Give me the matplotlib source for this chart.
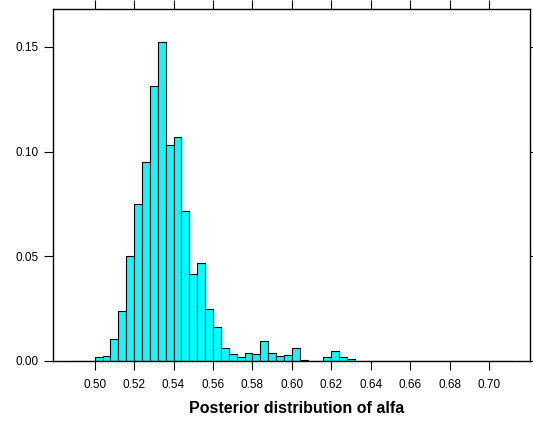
import numpy as np
import matplotlib
matplotlib.use("Agg")
import matplotlib.pyplot as plt

plt.rcParams['font.family'] = ['Liberation Sans', 'DejaVu Sans']

# histogram of alfa, bins of 0.004 from 0.488 to 0.712
breaks = np.linspace(0.488, 0.712, 57)
heights = [0, 0, 0,
           0.0018, 0.0024, 0.0105, 0.0236, 0.0499, 0.0749, 0.0952, 0.1314,
           0.1526, 0.1031, 0.1070, 0.0715, 0.0414, 0.0467, 0.0248, 0.0163,
           0.0060, 0.0031, 0.0019, 0.0036, 0.0033, 0.0095, 0.0038, 0.0021,
           0.0029, 0.0059, 0.0005, 0, 0, 0.0019, 0.0045, 0.0019, 0.0010,
           0, 0, 0, 0, 0, 0, 0, 0, 0, 0,
           0, 0, 0, 0, 0, 0, 0, 0, 0, 0]
xticks = [0.50, 0.52, 0.54, 0.56, 0.58, 0.60, 0.62, 0.64, 0.66, 0.68, 0.70]
yticks = [0.00, 0.05, 0.10, 0.15]
xlab = "Posterior distribution of alfa"

fig = plt.figure(figsize=(5.33, 4.23), dpi=100)
ax = fig.add_axes([0.1, 0.1473, 0.895, 0.8307])

ax.bar(breaks[:-1], heights, width=np.diff(breaks), align='edge',
       color='#00FFFF', edgecolor='black', linewidth=0.8)

ax.set_xlim(0.479, 0.721)
ax.set_ylim(0, 0.168)
ax.set_xticks(xticks)
ax.set_xticklabels(["%.2f" % v for v in xticks])
ax.set_yticks(yticks)
ax.set_yticklabels(["%.2f" % v for v in yticks])
ax.tick_params(direction='out', length=6.5, width=0.8, top=True, right=True,
               labeltop=False, labelright=False, labelsize=8.5, pad=4)
ax.tick_params(axis='x', pad=6.5)
for s in ax.spines.values():
    s.set_linewidth(1.0)
ax.set_xlabel(xlab, fontsize=11.5, fontweight='bold', labelpad=8)
ax.xaxis.set_label_coords(0.51, -0.115)

fig.savefig("out.png", dpi=100)
